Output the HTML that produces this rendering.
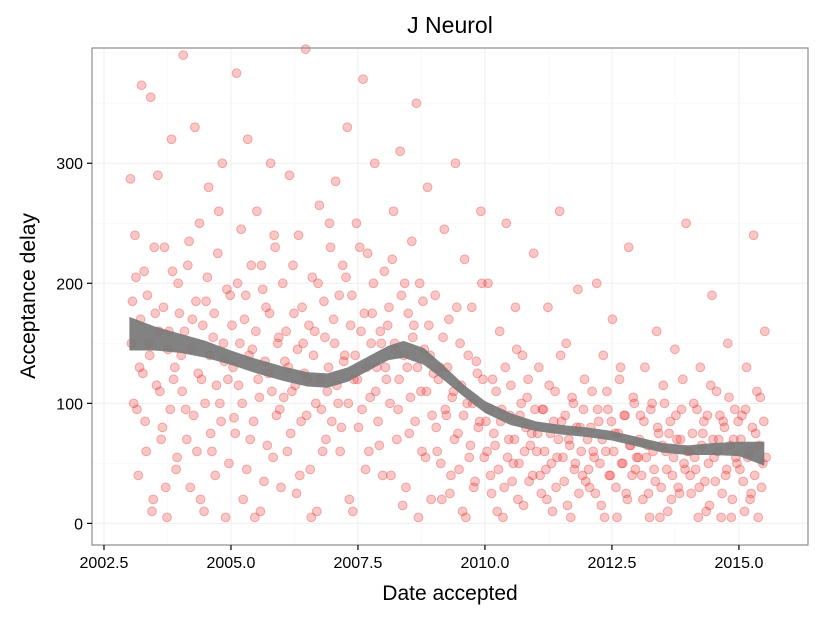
<!DOCTYPE html>
<html><head><meta charset="utf-8"><style>
body{margin:0;background:#fff;}
svg text{font-family:"Liberation Sans",sans-serif;}
</style></head><body>
<svg id="chart" width="825" height="618" xmlns="http://www.w3.org/2000/svg">
<rect width="825" height="618" fill="#fff"/>
<g id="grid"></g>
<g id="points"></g>
<g id="smooth"></g>
<rect x="92" y="48" width="716" height="497" fill="none" stroke="#8c8c8c" stroke-width="1.2"/>
<g id="axes"></g>
<text x="450" y="33" font-size="23" text-anchor="middle" fill="#000">J Neurol</text>
<text x="450" y="600" font-size="21" text-anchor="middle" fill="#000">Date accepted</text>
<text transform="translate(35,296) rotate(-90)" font-size="21" text-anchor="middle" fill="#000">Acceptance delay</text>
</svg>
<script>
const years = [2003,2004,2005,2006,2007,2008,2009,2010,2011,2012,2013,2014,2015];
const yearFrac = [0.02,0.06,0.11,0.15,0.2,0.24,0.29,0.33,0.38,0.42,0.47,0.51,0.56,0.6,0.65,0.69,0.74,0.78,0.83,0.87,0.92,0.96];
const yearFrac2 = [0.04,0.085,0.13,0.175,0.22,0.265,0.31,0.355,0.4,0.445,0.49,0.535,0.58,0.625,0.67,0.715,0.76,0.805,0.85,0.895,0.94,0.985];
const delays = [
[287,185,240,95,130,365,210,60,150,355,20,175,290,110,80,230,5,160,320,120,45,200],
[140,390,95,215,30,170,330,60,250,120,10,185,280,75,155,40,225,100,300,135,195,50],
[165,88,375,115,245,20,190,320,70,145,5,260,105,215,35,180,125,300,55,230,150,95],
[200,135,60,290,110,175,25,240,85,150,395,120,45,205,160,10,265,95,185,70,130,230],
[170,285,100,60,215,140,330,20,190,120,250,80,160,370,45,225,105,175,300,130,65,150],
[210,120,180,40,260,145,95,310,15,200,130,75,235,165,350,5,110,185,55,280,140,90],
[190,60,130,20,245,90,170,40,110,300,75,150,10,220,100,55,180,30,135,80,260,120],
[85,200,40,120,65,10,160,95,30,250,70,115,50,180,20,90,140,60,105,35,75,225],
[60,130,25,95,45,180,75,10,110,55,260,85,35,150,70,5,100,50,195,80,40,120],
[70,30,110,55,200,85,15,140,60,95,40,170,75,5,120,50,90,25,230,65,105,45],
[55,90,20,130,65,5,100,45,160,75,30,115,60,10,85,40,145,70,25,95,50,250],
[60,25,100,45,5,130,75,35,90,15,190,55,110,70,5,85,40,150,65,20,95,50],
[45,90,10,130,60,25,240,75,5,105,50,160]
];
const delays2 = [
[150,100,205,40,170,125,85,190,140,10,230,115,160,70,180,30,145,95,210,130,55,175],
[110,160,70,235,145,90,185,125,20,165,100,205,140,60,175,115,260,85,150,5,120,190],
[130,75,200,150,100,170,45,140,215,85,160,120,10,195,135,65,175,110,240,90,155,30],
[105,160,130,75,215,115,145,40,180,125,90,165,5,140,100,200,120,60,155,110,250,85],
[150,115,190,80,135,205,100,165,10,140,120,230,95,175,130,60,150,200,110,85,160,40],
[130,165,100,220,150,70,120,190,140,30,175,105,155,85,130,200,60,145,110,165,20,125],
[80,120,50,155,95,130,25,105,70,180,45,115,90,5,140,65,100,35,125,85,200,55],
[60,95,25,75,110,45,85,5,130,55,90,35,70,145,50,100,15,80,120,65,40,95],
[75,40,95,60,20,115,50,85,30,70,140,55,90,15,65,105,45,80,25,60,95,35],
[45,80,60,25,95,50,70,5,110,40,85,60,30,75,130,50,90,20,65,40,100,55],
[70,40,85,55,25,95,60,35,80,5,65,100,45,75,20,55,90,30,70,120,45,60],
[40,75,55,95,30,65,85,10,50,115,70,35,60,90,25,80,45,105,5,70,55,85],
[70,35,95,55,20,80,40,110,65,30,85,55]
];
const smoothX = [2003,2003.5,2004,2004.5,2005,2005.5,2006,2006.5,2006.9,2007.3,2007.7,2008.1,2008.4,2008.8,2009.2,2009.6,2010,2010.5,2011,2011.5,2012,2012.5,2013,2013.5,2014,2014.5,2015,2015.5];
const smoothY = [158,154,150,145,138,131,125,120,119,124,133,142,145,139,125,110,97,87,81,78,76,73,68,63,61,62,62,58];
const smoothSE = [14,10,8,7,6,6,6,6,6,6,6,6,7,7,6,5,5,5,4,4,4,4,4,4,4,5,6,10];
const xTicks = [2002.5,2005.0,2007.5,2010.0,2012.5,2015.0];
const xTickLabels = ["2002.5","2005.0","2007.5","2010.0","2012.5","2015.0"];
const yTicks = [0,100,200,300];
const yTickLabels = ["0","100","200","300"];

const NS="http://www.w3.org/2000/svg";
const X0=92,X1=808,Y0=48,Y1=545;
const xMin=2002.264,xMax=2016.36,yMin=-18,yMax=396;
function xs(v){return X0+(v-xMin)/(xMax-xMin)*(X1-X0);}
function ys(v){return Y1-(v-yMin)/(yMax-yMin)*(Y1-Y0);}
function mk(t,a,p){const e=document.createElementNS(NS,t);for(const k in a)e.setAttribute(k,a[k]);p.appendChild(e);return e;}

const grid=document.getElementById('grid');
for(let i=0;i<xTicks.length;i++){
  const l=mk('line',{x1:xs(xTicks[i]),x2:xs(xTicks[i]),y1:Y0,y2:Y1,stroke:'#efefef','stroke-width':1},grid);
  
  
  const m=mk('line',{x1:xs(xTicks[i]+1.25),x2:xs(xTicks[i]+1.25),y1:Y0,y2:Y1,stroke:'#f6f6f6','stroke-width':0.6},grid);
  
  
}
for(let i=0;i<yTicks.length;i++){
  const l=mk('line',{x1:X0,x2:X1,y1:ys(yTicks[i]),y2:ys(yTicks[i]),stroke:'#efefef','stroke-width':1},grid);
  
  
  const m=mk('line',{x1:X0,x2:X1,y1:ys(yTicks[i]+50),y2:ys(yTicks[i]+50),stroke:'#f6f6f6','stroke-width':0.6},grid);
  
  
}

const pts=document.getElementById('points');
function drawLayer(vals,fr){
  for(let i=0;i<years.length;i++){
    for(let j=0;j<vals[i].length;j++){
      const d=years[i]+fr[j];
      const c=mk('circle',{cx:xs(d),cy:ys(vals[i][j]),r:4.4,fill:'rgba(235,40,40,0.26)',stroke:'rgba(225,30,30,0.32)','stroke-width':1},pts);
      
      
    }
  }
}
drawLayer(delays,yearFrac);
drawLayer(delays2,yearFrac2);

const sm=document.getElementById('smooth');
let up=[],dn=[];
for(let i=0;i<smoothX.length;i++){up.push(xs(smoothX[i])+','+ys(smoothY[i]+smoothSE[i]));dn.unshift(xs(smoothX[i])+','+ys(smoothY[i]-smoothSE[i]));}
const band=mk('polygon',{points:up.concat(dn).join(' '),fill:'#777','fill-opacity':0.92},sm);



const ax=document.getElementById('axes');
for(let i=0;i<xTicks.length;i++){
  const x=xs(xTicks[i]);
  const t=mk('line',{x1:x,x2:x,y1:Y1,y2:Y1+5,stroke:'#000','stroke-width':1.2},ax);
  
  
  const tx=mk('text',{x:x,y:Y1+23,'font-size':16,'text-anchor':'middle',fill:'#000'},ax);
  tx.textContent=xTickLabels[i];
  
  
}
for(let i=0;i<yTicks.length;i++){
  const y=ys(yTicks[i]);
  const t=mk('line',{x1:X0-5,x2:X0,y1:y,y2:y,stroke:'#000','stroke-width':1.2},ax);
  
  
  const tx=mk('text',{x:X0-9,y:y+6,'font-size':16,'text-anchor':'end',fill:'#000'},ax);
  tx.textContent=yTickLabels[i];
  
  
}
</script>
</body></html>
